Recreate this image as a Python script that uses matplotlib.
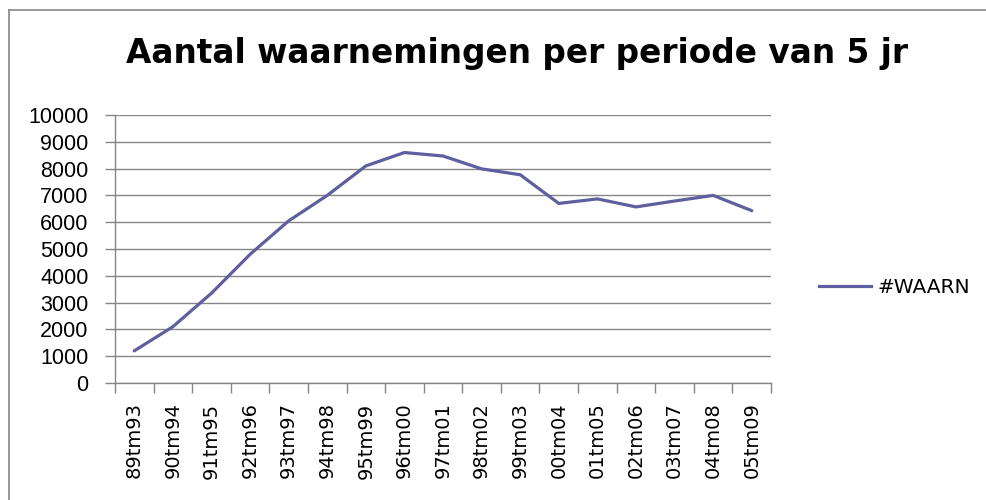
import matplotlib
matplotlib.use("Agg")
import matplotlib.pyplot as plt
from matplotlib.lines import Line2D
import numpy as np

periods = ["89tm93", "90tm94", "91tm95", "92tm96", "93tm97", "94tm98",
           "95tm99", "96tm00", "97tm01", "98tm02", "99tm03", "00tm04",
           "01tm05", "02tm06", "03tm07", "04tm08", "05tm09"]
waarn = [1200, 2100, 3350, 4800, 6050, 7000, 8100, 8600, 8470, 7990,
         7770, 6700, 6870, 6570, 6790, 7000, 6430]
yticks = list(range(0, 10001, 1000))

line_col = "#5f5f9f"
axis_col = "#868686"

fig = plt.figure(figsize=(9.86, 5.0), dpi=100)
ax = fig.add_axes([0.1166, 0.234, 0.6654, 0.536])

x = np.arange(len(periods))
ax.plot(x, waarn, color=line_col, lw=2.3, solid_capstyle="round",
        solid_joinstyle="round", zorder=3)

ax.set_xlim(-0.5, len(periods) - 0.5)
ax.set_ylim(0, 10000)
ax.set_yticks(yticks)
ax.set_yticklabels([str(v) for v in yticks], family="Liberation Sans",
                   fontsize=15.5)
ax.yaxis.grid(True, color=axis_col, lw=1)
ax.set_axisbelow(True)

# category labels at centres, tick marks on the boundaries
ax.set_xticks(x)
ax.set_xticklabels(periods, rotation=90, family="DejaVu Sans", fontsize=14)
ax.tick_params(axis="x", length=0, pad=14)
ax.set_xticks(np.arange(-0.5, len(periods)), minor=True)
ax.tick_params(axis="x", which="minor", length=7, color=axis_col, width=1)
ax.tick_params(axis="y", length=7, color=axis_col, width=1, pad=12)

for s in ["top", "right"]:
    ax.spines[s].set_visible(False)
for s in ["left", "bottom"]:
    ax.spines[s].set_color(axis_col)
    ax.spines[s].set_linewidth(1)

fig.text(0.524, 0.893, "Aantal waarnemingen per periode van 5 jr",
         ha="center", va="center", family="DejaVu Sans", weight="bold",
         fontsize=23.6)

# legend on the right
ax.legend([Line2D([], [], color=line_col, lw=2.3)], ["#WAARN"],
          loc="center left", bbox_to_anchor=(0.812, 0.425),
          bbox_transform=fig.transFigure, frameon=False,
          prop={"family": "DejaVu Sans", "size": 14.5},
          handlelength=2.6, handletextpad=0.3)

# chart area border (left and top only visible)
fig.add_artist(Line2D([0.0091, 0.0091], [0.98, 0.0], color=axis_col, lw=1.2,
                      transform=fig.transFigure))
fig.add_artist(Line2D([0.0091, 1.0], [0.98, 0.98], color=axis_col, lw=1.2,
                      transform=fig.transFigure))

fig.savefig("out.png", dpi=100)
